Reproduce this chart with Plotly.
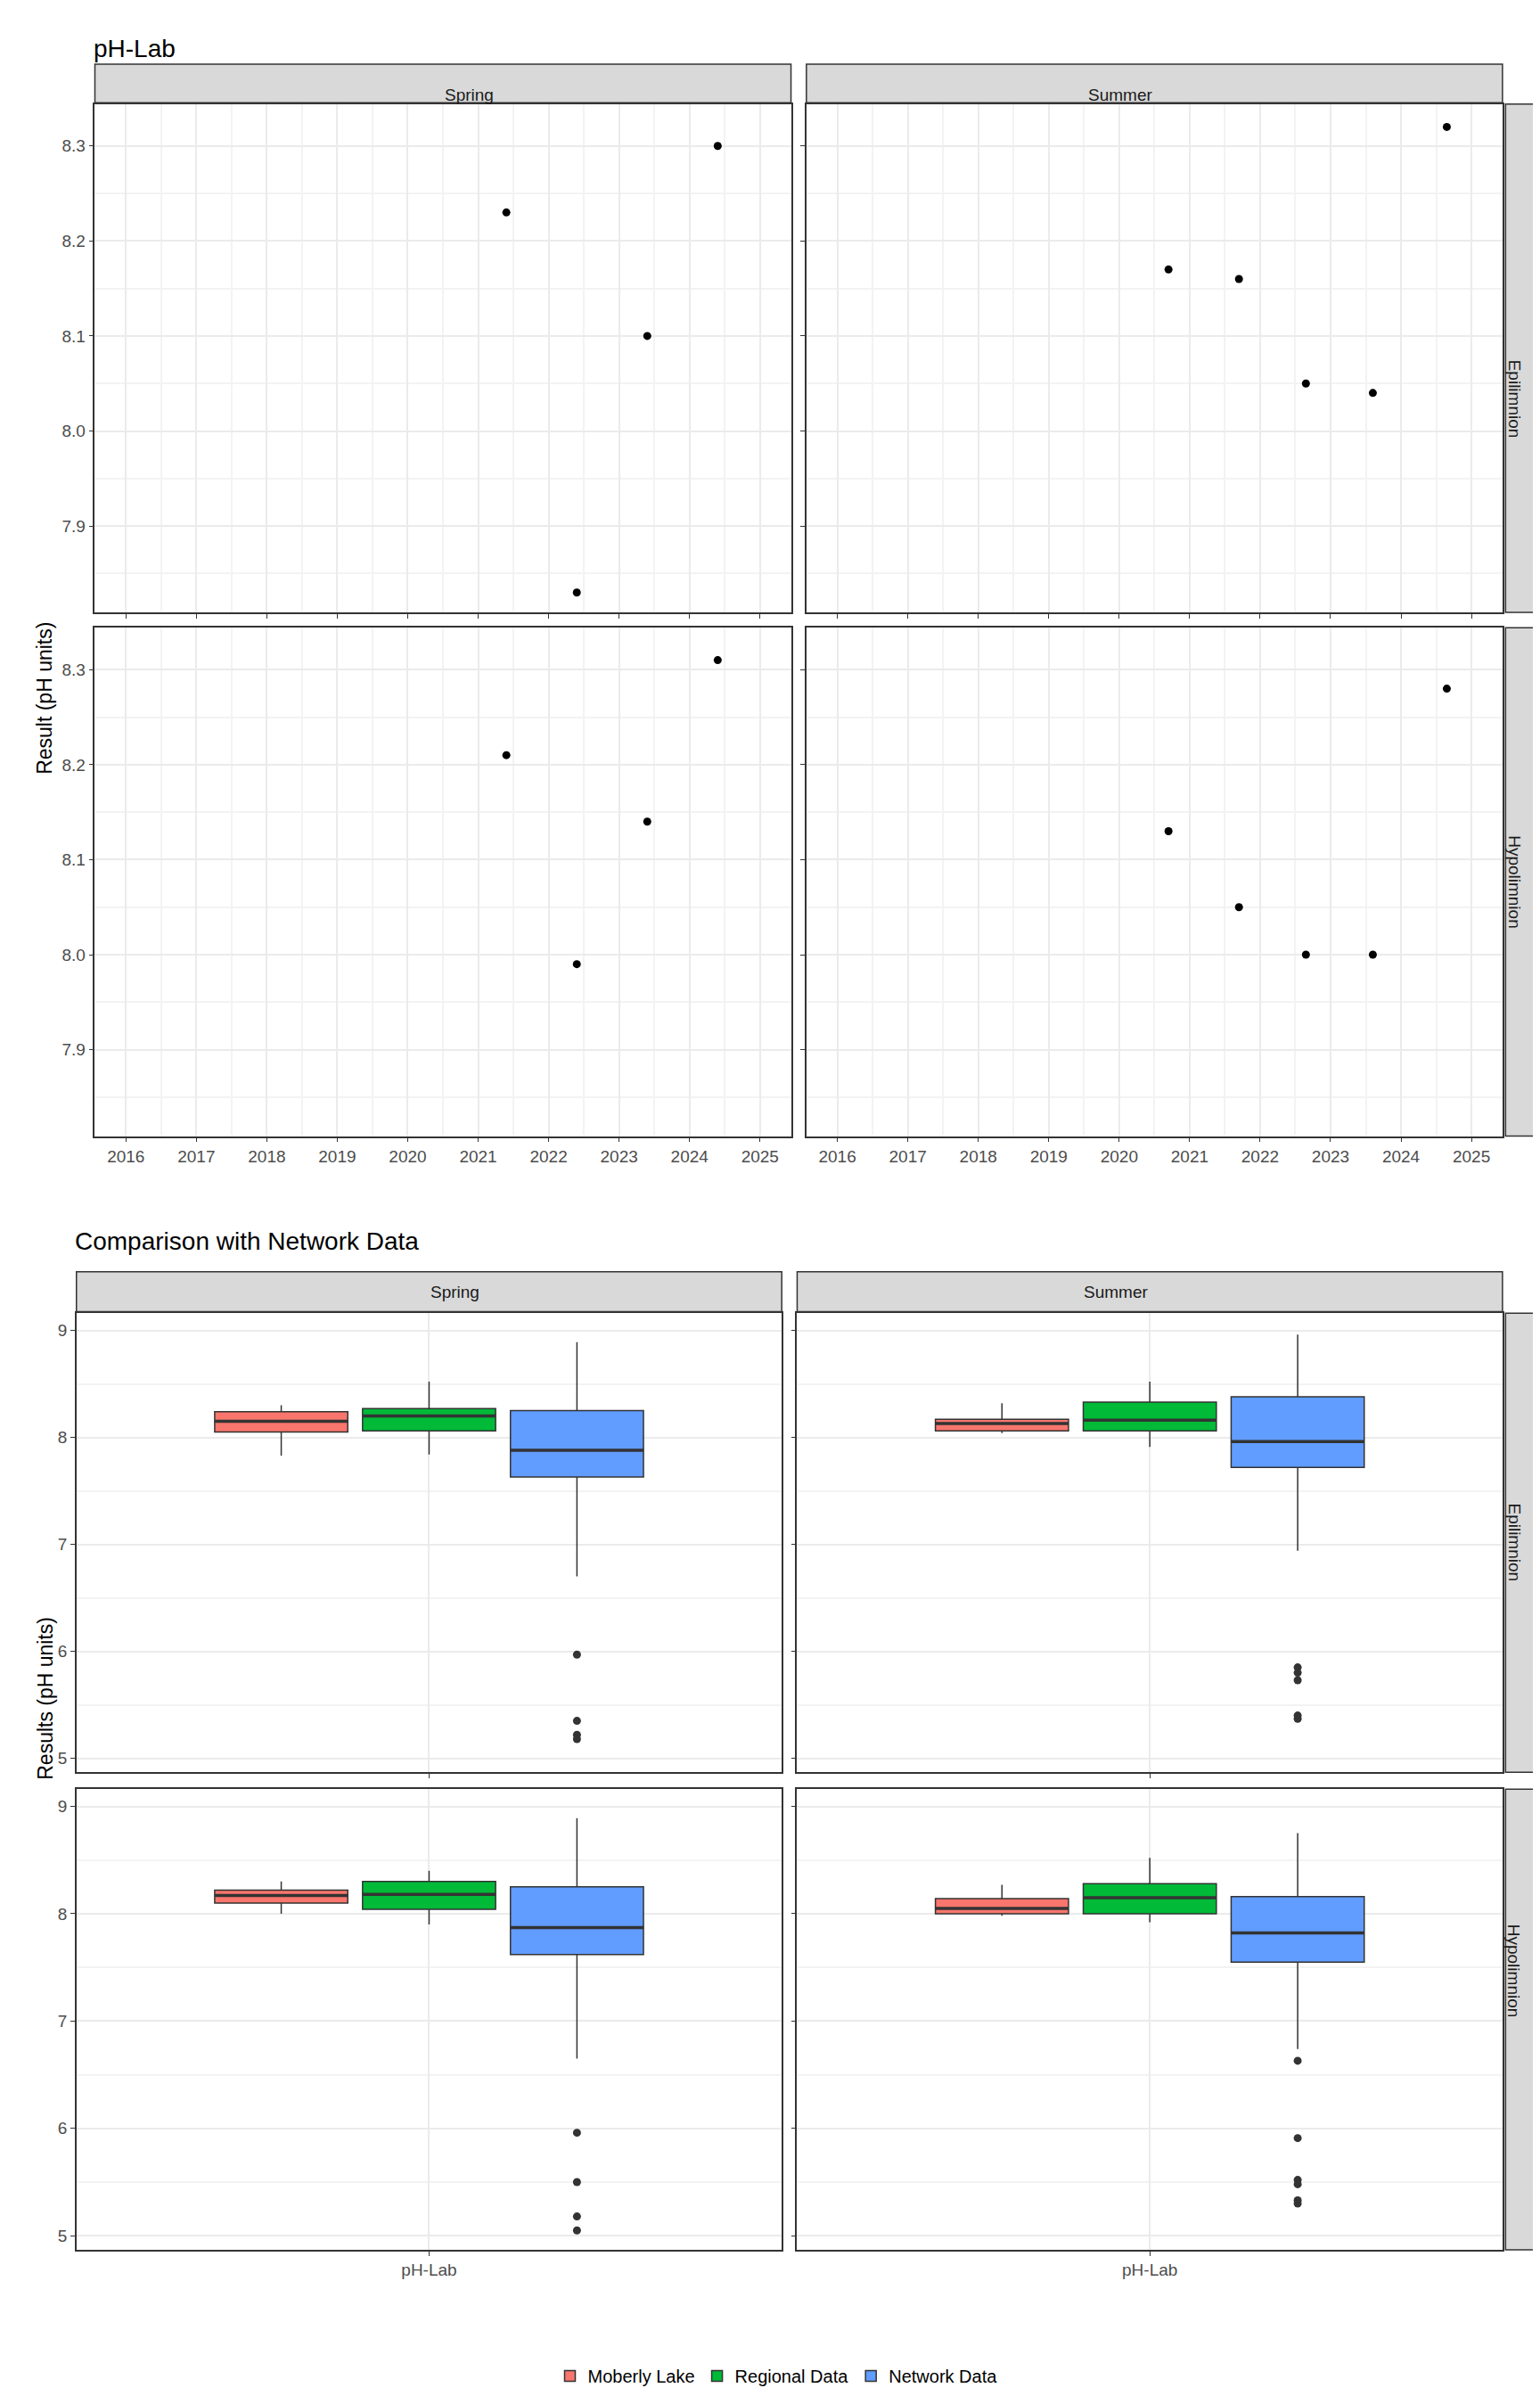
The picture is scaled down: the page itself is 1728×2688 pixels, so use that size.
import plotly.graph_objects as go

# ---- data: top section (pH-Lab time series) ----
spring_epi_x = [2021.4, 2022.4, 2023.4, 2024.4]
spring_epi_y = [8.23, 7.83, 8.10, 8.30]
summer_epi_x = [2020.7, 2021.7, 2022.65, 2023.6, 2024.65]
summer_epi_y = [8.17, 8.16, 8.05, 8.04, 8.32]
spring_hyp_x = [2021.4, 2022.4, 2023.4, 2024.4]
spring_hyp_y = [8.21, 7.99, 8.14, 8.31]
summer_hyp_x = [2020.7, 2021.7, 2022.65, 2023.6, 2024.65]
summer_hyp_y = [8.13, 8.05, 8.00, 8.00, 8.28]
year_ticks = list(range(2016, 2026))

# ---- data: boxplots [q1, median, q3, lower, upper] ----
groups = ["Moberly Lake", "Regional Data", "Network Data"]
colors = ["#F8766D", "#00BA38", "#619CFF"]
box_spring_epi = [[8.05, 8.15, 8.24, 7.83, 8.30], [8.06, 8.20, 8.27, 7.84, 8.52], [7.63, 7.88, 8.25, 6.70, 8.89]]
box_summer_epi = [[8.06, 8.13, 8.17, 8.04, 8.32], [8.06, 8.16, 8.33, 7.91, 8.52], [7.72, 7.96, 8.38, 6.94, 8.96]]
box_spring_hyp = [[8.10, 8.17, 8.22, 8.00, 8.30], [8.04, 8.18, 8.30, 7.90, 8.40], [7.62, 7.87, 8.25, 6.65, 8.89]]
box_summer_hyp = [[8.00, 8.05, 8.14, 7.98, 8.27], [8.00, 8.15, 8.28, 7.92, 8.52], [7.55, 7.82, 8.16, 6.74, 8.75]]
out_spring_epi = [5.97, 5.35, 5.22, 5.18]
out_summer_epi = [5.85, 5.80, 5.73, 5.40, 5.37]
out_spring_hyp = [5.96, 5.50, 5.18, 5.05]
out_summer_hyp = [6.63, 5.91, 5.52, 5.48, 5.33, 5.30]

FONT = "Liberation Sans"
H = 1555.6
def X(px): return px / 1000
def Y(py): return 1 - py / H

fig = go.Figure()
layout = dict(width=1728, height=2688, margin=dict(l=0, r=0, t=0, b=0),
              plot_bgcolor="white", paper_bgcolor="white", showlegend=True,
              font=dict(family=FONT))
shapes, annos = [], []

def axis_common(**kw):
    d = dict(showline=True, mirror=True, linecolor="#333333", linewidth=1.5,
             gridcolor="#EBEBEB", gridwidth=1.5, zeroline=False, ticks="outside",
             ticklen=5, tickcolor="#333333", tickfont=dict(size=19, color="#4D4D4D"),
             minor=dict(showgrid=True, gridcolor="#F3F3F3", gridwidth=1))
    d.update(kw)
    return d

def strip(x0, x1, y0, y1, text, vertical=False):
    shapes.append(dict(type="rect", xref="paper", yref="paper", x0=X(x0), x1=X(x1),
                       y0=Y(y1), y1=Y(y0), fillcolor="#D9D9D9",
                       line=dict(color="#333333", width=1.5)))
    annos.append(dict(xref="paper", yref="paper", x=X((x0 + x1) / 2), y=Y((y0 + y1) / 2),
                      text=text, showarrow=False, textangle=90 if vertical else 0,
                      font=dict(size=19, color="#1A1A1A")))

top_panels = [
    (57, 509, 63, 393, spring_epi_x, spring_epi_y, False),
    (519, 971, 63, 393, summer_epi_x, summer_epi_y, False),
    (57, 509, 403, 733, spring_hyp_x, spring_hyp_y, True),
    (519, 971, 403, 733, summer_hyp_x, summer_hyp_y, True),
]
for i, (x0, x1, y0, y1, xs, ys, showx) in enumerate(top_panels, start=1):
    layout[f"xaxis{i}"] = axis_common(domain=[X(x0), X(x1)], range=[2015.56, 2025.44],
                                      tickvals=year_ticks, showticklabels=showx, anchor=f"y{i}",
                                      minor=dict(showgrid=True, gridcolor="#F3F3F3", dtick=0.5, tick0=2015.5))
    layout[f"yaxis{i}"] = axis_common(domain=[Y(y1), Y(y0)], range=[7.809, 8.344],
                                      tickvals=[7.9, 8.0, 8.1, 8.2, 8.3], ticktext=["7.9", "8.0", "8.1", "8.2", "8.3"],
                                      showticklabels=(i in (1, 3)), anchor=f"x{i}",
                                      minor=dict(showgrid=True, gridcolor="#F3F3F3", dtick=0.05, tick0=7.85))
    fig.add_trace(go.Scatter(x=xs, y=ys, mode="markers", marker=dict(color="black", size=9),
                             xaxis=f"x{i}", yaxis=f"y{i}", showlegend=False))
strip(57, 509, 37, 62, "Spring"); strip(519, 971, 37, 62, "Summer")
strip(973, 999, 63, 393, "Epilimnion", True); strip(973, 999, 403, 733, "Hypolimnion", True)

bot_panels = [
    (45, 503, 848, 1146, box_spring_epi, out_spring_epi, False),
    (513, 971, 848, 1146, box_summer_epi, out_summer_epi, False),
    (45, 503, 1157, 1456, box_spring_hyp, out_spring_hyp, True),
    (513, 971, 1157, 1456, box_summer_hyp, out_summer_hyp, True),
]
for j, (x0, x1, y0, y1, boxes, outs, showx) in enumerate(bot_panels):
    i = j + 5
    layout[f"xaxis{i}"] = axis_common(domain=[X(x0), X(x1)], range=[-0.385, 4.385],
                                      tickvals=[2], ticktext=["pH-Lab"], showticklabels=showx,
                                      anchor=f"y{i}", minor=dict(showgrid=False))
    layout[f"yaxis{i}"] = axis_common(domain=[Y(y1), Y(y0)], range=[4.87, 9.16],
                                      tickvals=[5, 6, 7, 8, 9], showticklabels=(j in (0, 2)),
                                      anchor=f"x{i}",
                                      minor=dict(showgrid=True, gridcolor="#F3F3F3", dtick=0.5, tick0=4.5))
    for k, (g, c, b) in enumerate(zip(groups, colors, boxes)):
        fig.add_trace(go.Box(x=[k + 1], q1=[b[0]], median=[b[1]], q3=[b[2]],
                             lowerfence=[b[3]], upperfence=[b[4]], width=0.9, whiskerwidth=0,
                             fillcolor=c, line=dict(color="#333333", width=1.5),
                             name=g, legendgroup=g, showlegend=(j == 0),
                             xaxis=f"x{i}", yaxis=f"y{i}"))
        # thicker median line like ggplot
        fig.add_trace(go.Scatter(x=[k + 1 - 0.45, k + 1 + 0.45], y=[b[1], b[1]], mode="lines",
                                 line=dict(color="#333333", width=3.5), showlegend=False,
                                 hoverinfo="skip", xaxis=f"x{i}", yaxis=f"y{i}"))
    fig.add_trace(go.Scatter(x=[3] * len(outs), y=outs, mode="markers",
                             marker=dict(color="#333333", size=9), showlegend=False,
                             xaxis=f"x{i}", yaxis=f"y{i}"))
strip(45, 503, 821, 847, "Spring"); strip(513, 971, 821, 847, "Summer")
strip(973, 999, 848, 1146, "Epilimnion", True); strip(973, 999, 1157, 1456, "Hypolimnion", True)

annos += [
    dict(xref="paper", yref="paper", x=X(55), y=Y(17), text="pH-Lab", showarrow=False,
         xanchor="left", font=dict(size=28, color="black")),
    dict(xref="paper", yref="paper", x=X(43), y=Y(801), text="Comparison with Network Data",
         showarrow=False, xanchor="left", font=dict(size=28, color="black")),
    dict(xref="paper", yref="paper", x=X(16), y=Y(398), text="Result (pH units)", showarrow=False,
         textangle=-90, font=dict(size=23, color="black")),
    dict(xref="paper", yref="paper", x=X(16), y=Y(1152), text="Results (pH units)", showarrow=False,
         textangle=-90, font=dict(size=23, color="black")),
]
layout["shapes"] = shapes
layout["annotations"] = annos
layout["legend"] = dict(orientation="h", x=0.5, xanchor="center", y=Y(1538), yanchor="middle",
                        font=dict(size=20, color="black"))
layout["boxgap"] = 0
fig.update_layout(**layout)
fig.write_html("out.html")
